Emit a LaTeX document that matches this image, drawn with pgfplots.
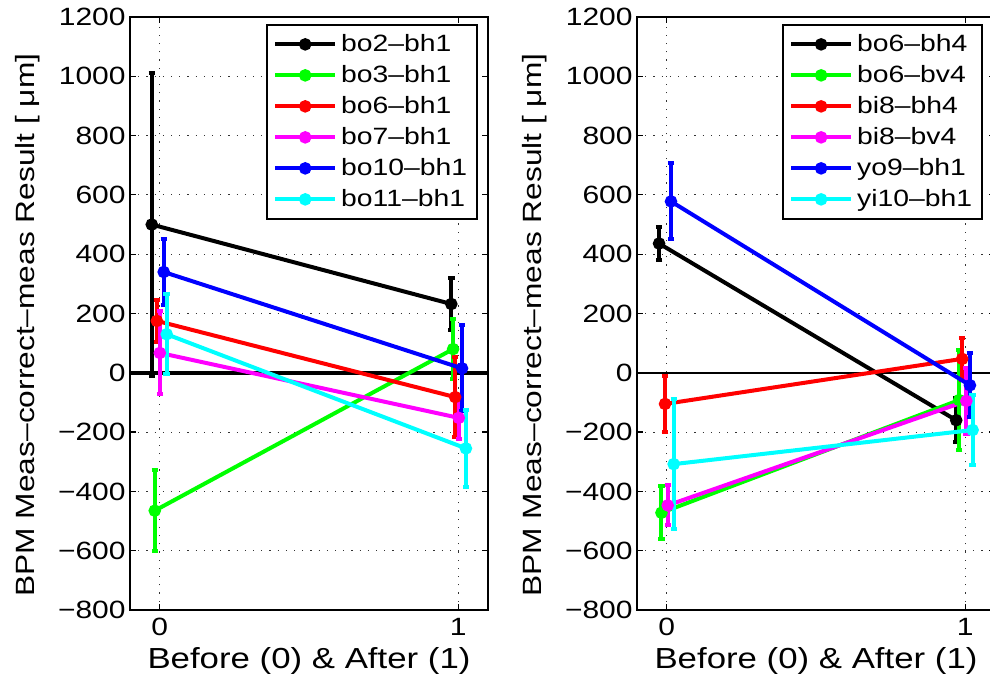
\documentclass[border=0pt]{standalone}
\usepackage{fontspec}
\setmainfont{Liberation Sans}[FakeStretch=1.2]
\usepackage{pgfplots}
\pgfplotsset{compat=1.18}
\usepackage{pgfplotstable}
\definecolor{mgreen}{rgb}{0,1,0}
\definecolor{mred}{rgb}{1,0,0}
\definecolor{mmagenta}{rgb}{1,0,1}
\definecolor{mblue}{rgb}{0,0,1}
\definecolor{mcyan}{rgb}{0,1,1}

% left panel
\pgfplotstableread{
x y e
-0.027 500 510
0.977 232 88
}\La
\pgfplotstableread{
x y e
-0.017 -465 137
0.983 80 100
}\Lb
\pgfplotstableread{
x y e
-0.010 175 72
0.990 -82 135
}\Lc
\pgfplotstableread{
x y e
0.000 67 140
1.002 -152 70
}\Ld
\pgfplotstableread{
x y e
0.013 340 110
1.013 15 145
}\Le
\pgfplotstableread{
x y e
0.023 130 135
1.026 -255 130
}\Lf
% right panel
\pgfplotstableread{
x y e
-0.026 436 56
0.970 -160 75
}\Ra
\pgfplotstableread{
x y e
-0.018 -472 90
0.980 -92 170
}\Rb
\pgfplotstableread{
x y e
-0.006 -105 95
0.990 47 72
}\Rc
\pgfplotstableread{
x y e
0.003 -447 67
1.004 -95 112
}\Rd
\pgfplotstableread{
x y e
0.014 578 128
1.016 -42 108
}\Re
\pgfplotstableread{
x y e
0.023 -308 220
1.025 -193 118
}\Rf

\pgfplotsset{
  panel/.style={
    scale only axis, width=179pt, height=296.5pt,
    xmin=-0.1, xmax=1.1, ymin=-800, ymax=1200,
    xtick={0,1}, xticklabels={0,1},
    ytick={-800,-600,...,1200},
    yticklabels={−800,−600,−400,−200,0,200,400,600,800,1000,1200},
    grid=major,
    grid style={black!80, dash pattern=on 0.6pt off 3.5pt, line width=0.5pt},
    tick align=inside, major tick length=3pt,
    tick style={black, line width=0.6pt},
    axis line style={line width=1pt},
    ticklabel style={font=\fontsize{12.5}{14}\selectfont},
    yticklabel style={inner xsep=2pt},
    xticklabel style={inner ysep=4pt},
    xlabel={Before (0) \& After (1)},
    ylabel={BPM Meas\textendash correct\textendash meas Result [ μm]},
    ylabel style={at={(axis description cs:-0.285,0.4806)}, anchor=center,
      font=\fontsize{13.2}{15}\selectfont},
    xlabel style={at={(axis description cs:0.5,-0.062)}, anchor=north, inner sep=0pt,
      font=\fontsize{14.5}{16}\selectfont},
    legend cell align=left,
    legend style={anchor=north east, draw=black, line width=0.75pt,
      font=\fontsize{11.8}{14}\selectfont,
      nodes={text height=10pt, text depth=3pt, inner ysep=1.25pt}},
    legend image code/.code={
      \draw[mark repeat=2,mark phase=2] plot coordinates {(0pt,0pt) (15pt,0pt) (30pt,0pt)};},
  },
  ser/.style={color=#1, line width=2pt, mark=*, mark size=2.1pt,
    mark options={solid, fill=#1},
    error bars/.cd, y dir=both, y explicit,
    error bar style={line width=2pt, color=#1},
    error mark options={rotate=90, mark size=1.6pt, line width=2pt, color=#1}},
}

\begin{document}
\begin{tikzpicture}
\begin{axis}[panel, at={(65pt,32.5pt)}, anchor=south west,
  legend style={at={(0.972,0.988)}}]
\addplot[black, line width=2pt, forget plot] coordinates {(-0.1,0) (1.1,0)};
\addplot[ser=black] table[x=x,y=y,y error=e]{\La};
\addlegendentry{bo2\textendash bh1}
\addplot[ser=mgreen] table[x=x,y=y,y error=e]{\Lb};
\addlegendentry{bo3\textendash bh1}
\addplot[ser=mred] table[x=x,y=y,y error=e]{\Lc};
\addlegendentry{bo6\textendash bh1}
\addplot[ser=mmagenta] table[x=x,y=y,y error=e]{\Ld};
\addlegendentry{bo7\textendash bh1}
\addplot[ser=mblue] table[x=x,y=y,y error=e]{\Le};
\addlegendentry{bo10\textendash bh1}
\addplot[ser=mcyan] table[x=x,y=y,y error=e]{\Lf};
\addlegendentry{bo11\textendash bh1}
\end{axis}
\begin{axis}[panel, at={(318.5pt,32.5pt)}, anchor=south west,
  legend style={at={(0.966,0.988)}}]
\addplot[black, line width=1pt, forget plot] coordinates {(-0.1,0) (1.1,0)};
\addplot[ser=black] table[x=x,y=y,y error=e]{\Ra};
\addlegendentry{bo6\textendash bh4}
\addplot[ser=mgreen] table[x=x,y=y,y error=e]{\Rb};
\addlegendentry{bo6\textendash bv4}
\addplot[ser=mred] table[x=x,y=y,y error=e]{\Rc};
\addlegendentry{bi8\textendash bh4}
\addplot[ser=mmagenta] table[x=x,y=y,y error=e]{\Rd};
\addlegendentry{bi8\textendash bv4}
\addplot[ser=mblue] table[x=x,y=y,y error=e]{\Re};
\addlegendentry{yo9\textendash bh1}
\addplot[ser=mcyan] table[x=x,y=y,y error=e]{\Rf};
\addlegendentry{yi10\textendash bh1}
\end{axis}
\pgfresetboundingbox
\path[use as bounding box] (0pt,0pt) rectangle (495pt,337.5pt);
\end{tikzpicture}
\end{document}
